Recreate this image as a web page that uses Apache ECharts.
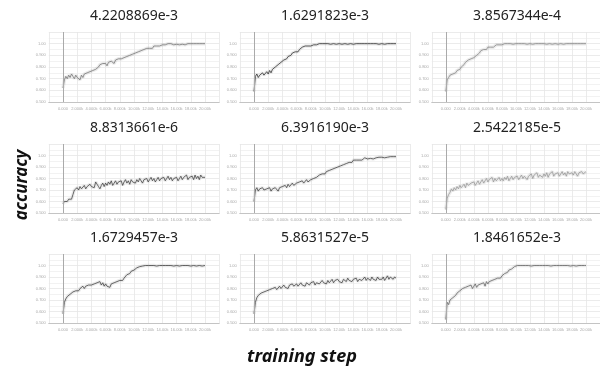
<!DOCTYPE html>
<html>
<head>
<meta charset="utf-8">
<script src="https://cdn.jsdelivr.net/npm/echarts@6/dist/echarts.min.js"></script>
<style>
  html, body { margin: 0; padding: 0; background: #fff; }
  #chart { width: 600px; height: 372px; }
</style>
</head>
<body>
<div id="chart"></div>
<script>
// learning rate of each run (panel titles)
const titles = [
  '4.2208869e-3', '1.6291823e-3', '3.8567344e-4',
  '8.8313661e-6', '6.3916190e-3', '2.5422185e-5',
  '1.6729457e-3', '5.8631527e-5', '1.8461652e-3'
];

// training steps, one sample every 200 steps
const steps = [
  0, 200, 400, 600, 800, 1000, 1200, 1400, 1600, 1800,
  2000, 2200, 2400, 2600, 2800, 3000, 3200, 3400, 3600, 3800,
  4000, 4200, 4400, 4600, 4800, 5000, 5200, 5400, 5600, 5800,
  6000, 6200, 6400, 6600, 6800, 7000, 7200, 7400, 7600, 7800,
  8000, 8200, 8400, 8600, 8800, 9000, 9200, 9400, 9600, 9800,
  10000, 10200, 10400, 10600, 10800, 11000, 11200, 11400, 11600, 11800,
  12000, 12200, 12400, 12600, 12800, 13000, 13200, 13400, 13600, 13800,
  14000, 14200, 14400, 14600, 14800, 15000, 15200, 15400, 15600, 15800,
  16000, 16200, 16400, 16600, 16800, 17000, 17200, 17400, 17600, 17800,
  18000, 18200, 18400, 18600, 18800, 19000, 19200, 19400, 19600, 19800,
  20000
];

const acc1 = [
  0.62,0.69,0.72,0.70,0.73,0.71,0.74,0.72,0.70,0.73,
  0.71,0.72,0.69,0.73,0.71,0.74,0.73,0.75,0.74,0.76,
  0.75,0.77,0.76,0.78,0.77,0.80,0.82,0.81,0.83,0.82,
  0.83,0.81,0.84,0.83,0.85,0.84,0.83,0.86,0.85,0.87,
  0.86,0.87,0.86,0.88,0.87,0.89,0.88,0.90,0.89,0.91,
  0.90,0.92,0.91,0.93,0.92,0.94,0.93,0.95,0.94,0.96,
  0.95,0.96,0.97,0.96,0.98,0.97,0.98,0.99,0.98,0.99,
  0.99,1.00,0.99,0.995,1.00,0.99,1.00,0.995,0.99,1.00,
  0.995,1.00,0.99,1.00,0.995,1.00,0.99,0.995,1.00,0.995,
  1.00,0.995,1.00,0.99,1.00,0.995,1.00,0.995,1.00,1.00,
  1.00
];
const acc2 = [
  0.59,0.72,0.74,0.71,0.73,0.72,0.75,0.73,0.74,0.76,
  0.74,0.77,0.75,0.78,0.77,0.80,0.79,0.82,0.81,0.84,
  0.83,0.86,0.85,0.87,0.89,0.88,0.90,0.92,0.91,0.93,
  0.94,0.93,0.95,0.96,0.97,0.96,0.98,0.97,0.98,0.99,
  0.98,0.99,0.99,1.00,0.99,0.995,1.00,0.995,1.00,1.00,
  1.00,0.995,1.00,1.00,0.995,1.00,1.00,1.00,0.995,1.00,
  1.00,1.00,0.995,1.00,1.00,1.00,0.995,1.00,1.00,1.00,
  0.995,1.00,1.00,1.00,1.00,0.995,1.00,1.00,1.00,0.995,
  1.00,1.00,1.00,0.995,1.00,1.00,1.00,1.00,0.995,1.00,
  1.00,1.00,0.995,1.00,1.00,1.00,1.00,0.995,1.00,1.00,
  1.00
];
const acc3 = [
  0.59,0.69,0.71,0.73,0.72,0.74,0.73,0.75,0.77,0.76,
  0.78,0.80,0.79,0.82,0.84,0.83,0.86,0.85,0.87,0.86,
  0.88,0.87,0.90,0.91,0.92,0.94,0.93,0.95,0.96,0.95,
  0.97,0.96,0.97,0.98,0.97,0.98,0.99,0.985,0.99,0.995,
  0.99,0.995,1.00,0.995,1.00,0.995,1.00,1.00,0.995,1.00,
  1.00,0.995,1.00,1.00,1.00,0.995,1.00,1.00,0.995,1.00,
  1.00,1.00,0.995,1.00,1.00,0.995,1.00,1.00,1.00,0.995,
  1.00,1.00,0.995,1.00,1.00,1.00,0.995,1.00,1.00,1.00,
  0.995,1.00,1.00,1.00,0.995,1.00,1.00,0.995,1.00,1.00,
  1.00,0.995,1.00,1.00,1.00,0.995,1.00,1.00,1.00,1.00,
  1.00
];
const acc4 = [
  0.58,0.60,0.61,0.60,0.62,0.63,0.62,0.66,0.70,0.69,
  0.72,0.70,0.73,0.71,0.72,0.74,0.71,0.73,0.72,0.75,
  0.73,0.74,0.72,0.77,0.75,0.73,0.71,0.74,0.76,0.73,
  0.76,0.74,0.77,0.75,0.78,0.74,0.76,0.78,0.75,0.77,
  0.76,0.78,0.74,0.77,0.79,0.76,0.78,0.75,0.79,0.77,
  0.78,0.76,0.79,0.77,0.80,0.78,0.76,0.79,0.78,0.80,
  0.77,0.79,0.81,0.78,0.80,0.77,0.79,0.81,0.78,0.80,
  0.79,0.81,0.78,0.80,0.82,0.79,0.81,0.78,0.80,0.79,
  0.81,0.78,0.80,0.82,0.79,0.81,0.80,0.83,0.79,0.81,
  0.80,0.82,0.79,0.83,0.80,0.82,0.79,0.83,0.81,0.82,
  0.81
];
const acc5 = [
  0.60,0.70,0.72,0.69,0.71,0.70,0.72,0.70,0.69,0.71,
  0.70,0.72,0.69,0.71,0.70,0.72,0.71,0.69,0.72,0.71,
  0.73,0.72,0.74,0.72,0.75,0.73,0.74,0.76,0.74,0.75,
  0.76,0.75,0.77,0.76,0.78,0.76,0.77,0.79,0.77,0.78,
  0.79,0.78,0.80,0.79,0.81,0.80,0.83,0.82,0.84,0.85,
  0.84,0.86,0.85,0.87,0.86,0.88,0.87,0.89,0.88,0.90,
  0.89,0.91,0.90,0.92,0.91,0.93,0.92,0.94,0.95,0.94,
  0.96,0.95,0.96,0.97,0.96,0.97,0.96,0.97,0.98,0.97,
  0.97,0.98,0.975,0.98,0.97,0.985,0.98,0.99,0.985,0.99,
  0.985,0.99,0.98,0.99,0.985,0.975,0.99,0.985,0.99,0.985,
  0.99
];
const acc6 = [
  0.53,0.63,0.66,0.68,0.71,0.69,0.72,0.70,0.73,0.71,
  0.74,0.72,0.73,0.75,0.72,0.76,0.74,0.73,0.76,0.75,
  0.77,0.74,0.76,0.78,0.75,0.77,0.79,0.76,0.78,0.80,
  0.77,0.79,0.78,0.81,0.77,0.80,0.78,0.79,0.81,0.78,
  0.80,0.78,0.81,0.79,0.82,0.78,0.80,0.82,0.79,0.81,
  0.80,0.82,0.79,0.81,0.83,0.80,0.82,0.81,0.79,0.82,
  0.81,0.84,0.80,0.83,0.82,0.85,0.81,0.83,0.84,0.81,
  0.84,0.82,0.85,0.81,0.84,0.83,0.86,0.82,0.84,0.83,
  0.85,0.82,0.84,0.86,0.83,0.85,0.82,0.86,0.84,0.83,
  0.85,0.83,0.86,0.84,0.82,0.85,0.84,0.86,0.84,0.85,
  0.86
];
const acc7 = [
  0.58,0.68,0.71,0.73,0.72,0.75,0.76,0.77,0.76,0.78,
  0.79,0.78,0.80,0.81,0.82,0.80,0.82,0.81,0.83,0.82,
  0.83,0.82,0.84,0.83,0.85,0.84,0.86,0.83,0.85,0.82,
  0.84,0.82,0.83,0.81,0.84,0.83,0.85,0.84,0.86,0.85,
  0.87,0.88,0.87,0.89,0.90,0.92,0.91,0.93,0.95,0.94,
  0.96,0.97,0.98,0.99,0.99,1.00,0.995,1.00,1.00,0.995,
  1.00,1.00,1.00,0.995,1.00,1.00,0.995,1.00,1.00,1.00,
  1.00,0.995,1.00,1.00,1.00,0.99,1.00,1.00,0.995,1.00,
  1.00,1.00,0.995,1.00,1.00,1.00,1.00,0.995,1.00,1.00,
  0.995,1.00,1.00,1.00,0.995,1.00,1.00,1.00,0.995,1.00,
  1.00
];
const acc8 = [
  0.58,0.68,0.72,0.74,0.73,0.76,0.75,0.77,0.76,0.78,
  0.77,0.79,0.78,0.80,0.79,0.81,0.79,0.80,0.82,0.80,
  0.81,0.83,0.81,0.82,0.80,0.83,0.82,0.84,0.82,0.83,
  0.84,0.82,0.83,0.85,0.83,0.84,0.82,0.85,0.84,0.83,
  0.85,0.84,0.86,0.83,0.85,0.86,0.84,0.85,0.87,0.85,
  0.86,0.84,0.87,0.85,0.86,0.88,0.85,0.87,0.86,0.88,
  0.86,0.87,0.85,0.88,0.87,0.86,0.89,0.87,0.88,0.86,
  0.88,0.87,0.89,0.86,0.88,0.89,0.87,0.88,0.90,0.87,
  0.89,0.88,0.87,0.90,0.88,0.89,0.87,0.90,0.88,0.89,
  0.88,0.90,0.87,0.89,0.91,0.88,0.90,0.89,0.88,0.90,
  0.89
];
const acc9 = [
  0.53,0.68,0.66,0.70,0.69,0.72,0.71,0.74,0.76,0.75,
  0.78,0.77,0.80,0.79,0.81,0.80,0.82,0.81,0.83,0.80,
  0.82,0.84,0.81,0.83,0.82,0.84,0.83,0.85,0.82,0.86,
  0.84,0.86,0.85,0.87,0.86,0.88,0.87,0.89,0.90,0.89,
  0.91,0.92,0.93,0.92,0.94,0.96,0.95,0.97,0.98,0.99,
  0.99,1.00,0.995,1.00,1.00,1.00,0.995,1.00,1.00,1.00,
  1.00,0.995,1.00,1.00,1.00,1.00,0.995,1.00,1.00,1.00,
  0.995,1.00,1.00,1.00,1.00,0.995,1.00,1.00,1.00,1.00,
  0.995,1.00,1.00,1.00,0.995,1.00,1.00,1.00,1.00,0.995,
  1.00,1.00,1.00,0.995,1.00,1.00,1.00,1.00,0.995,1.00,
  1.00
];

const runs = [acc1, acc2, acc3, acc4, acc5, acc6, acc7, acc8, acc9];
const lineColors = ['#777', '#333', '#888', '#444', '#444', '#999', '#444', '#444', '#666'];

// panel placement
const colLeft = [48.8, 239.8, 431.8];
const rowTop = [32, 144, 254];
const rowHeight = [70, 69, 69];
const panelWidth = 170.4;

const chart = echarts.init(document.getElementById('chart'));

const grids = [], xAxes = [], yAxes = [], series = [], graphics = [];

const stepLabel = v => v === 0 ? '0.000' : (v >= 10000 ? (v / 1000).toFixed(2) : (v / 1000).toFixed(3)) + 'k';
const accLabel = v => v >= 1 ? v.toFixed(2) : v.toFixed(3);

runs.forEach((acc, i) => {
  const r = Math.floor(i / 3), c = i % 3;
  grids.push({ left: colLeft[c], top: rowTop[r], width: panelWidth, height: rowHeight[r] });
  xAxes.push({
    type: 'value', gridIndex: i, min: -2000, max: 22000, interval: 2000,
    axisLine: { show: true, lineStyle: { color: '#c4c4c4', width: 1.2 } },
    axisTick: { show: false },
    axisLabel: { fontSize: 4, color: '#aaa', margin: 5, showMinLabel: false, showMaxLabel: false, formatter: stepLabel },
    splitLine: { show: true, lineStyle: { color: '#e6e6e6', width: 0.8 } }
  });
  yAxes.push({
    type: 'value', gridIndex: i, min: 0.5, max: 1.1, interval: 0.1,
    axisLine: { show: false },
    axisTick: { show: false },
    axisLabel: { fontSize: 4, color: '#aaa', margin: 3, showMaxLabel: false, formatter: accLabel },
    splitLine: { show: true, lineStyle: { color: '#e6e6e6', width: 0.8 } },
    minorTick: { show: false, splitNumber: 2 },
    minorSplitLine: { show: true, lineStyle: { color: '#efefef', width: 0.8 } }
  });
  const pts = steps.map((s, k) => [s, acc[k]]);
  // faint halo standing in for the raw (unsmoothed) curve
  series.push({
    type: 'line', xAxisIndex: i, yAxisIndex: i, data: pts,
    showSymbol: false, silent: true,
    lineStyle: { color: 'rgba(0,0,0,0.08)', width: 3.5 }
  });
  series.push({
    type: 'line', xAxisIndex: i, yAxisIndex: i, data: pts,
    showSymbol: false,
    lineStyle: { color: lineColors[i], width: 0.8 },
    markLine: {
      silent: true, symbol: ['none', 'none'], label: { show: false },
      lineStyle: { color: '#aaa', type: 'solid', width: 1 },
      data: [{ xAxis: 0 }]
    }
  });
  graphics.push({
    type: 'text', x: colLeft[c] + panelWidth / 2, y: rowTop[r] - 16,
    style: { text: titles[i], align: 'center', verticalAlign: 'middle', font: '14px "Noto Sans"', fill: '#222' }
  });
});

graphics.push({
  type: 'text', x: 22, y: 185, rotation: Math.PI / 2,
  style: { text: 'accuracy', align: 'center', verticalAlign: 'middle', font: 'italic bold 17px "Noto Sans"', fill: '#111' }
});
graphics.push({
  type: 'text', x: 302, y: 357,
  style: { text: 'training step', align: 'center', verticalAlign: 'middle', font: 'italic bold 18px "Noto Sans"', fill: '#111' }
});

chart.setOption({
  animation: false,
  backgroundColor: '#fff',
  grid: grids,
  xAxis: xAxes,
  yAxis: yAxes,
  series: series,
  graphic: graphics
});
</script>
</body>
</html>
